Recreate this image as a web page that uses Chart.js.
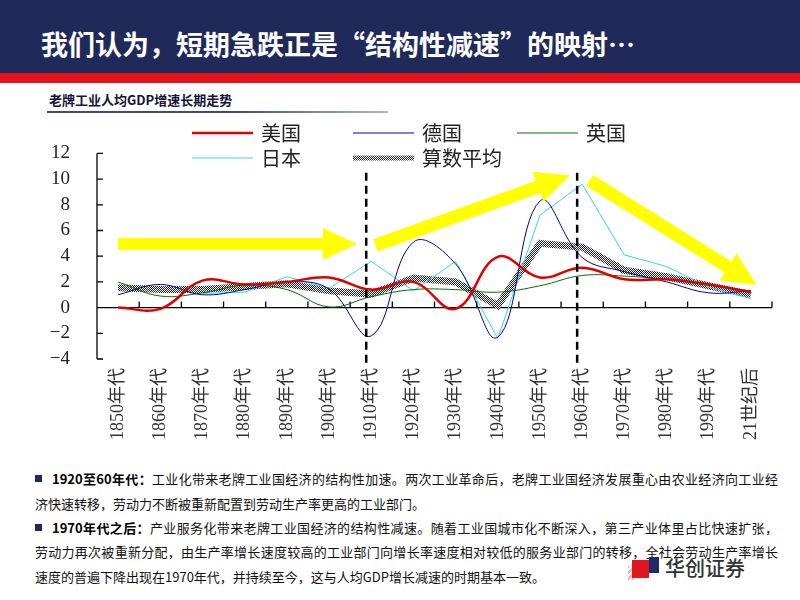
<!DOCTYPE html>
<html><head><meta charset="utf-8">
<script src="https://cdn.jsdelivr.net/npm/chart.js@4.4.0/dist/chart.umd.min.js"></script>
<style>
html,body{margin:0;padding:0;background:#fff;}
body{width:800px;height:600px;position:relative;overflow:hidden;font-family:"Noto Sans CJK SC",sans-serif;}
#bar{position:absolute;left:0;top:0;width:800px;height:73px;background:#1f2a5a;}
#stripe{position:absolute;left:0;top:73px;width:800px;height:10px;background:#e3141c;}
#title{position:absolute;left:41px;top:25px;color:#fff;font-size:27px;font-weight:bold;line-height:38px;white-space:nowrap;}
#sub{position:absolute;left:49px;top:91px;font-size:13px;font-weight:bold;color:#14143a;line-height:17px;white-space:nowrap;}
#subline{position:absolute;left:47px;top:111px;width:341px;height:2px;background:linear-gradient(to right,#3e4c70 0%,#3e4c70 55%,#b0bac8 100%);}
#chartbox{position:absolute;left:0;top:115px;width:800px;height:345px;}
.ln{position:absolute;font-size:13px;line-height:18px;color:#111;white-space:nowrap;}
.j{text-align:justify;text-align-last:justify;}
.bul{position:absolute;left:35px;width:7px;height:7px;background:#1f2a5a;}
.ln b{font-weight:bold;color:#000;}
#logoRed{position:absolute;left:632px;top:560px;width:17px;height:18px;background:#e0161e;}
#logoBlue{position:absolute;left:649px;top:557px;width:10px;height:16px;background:#1f2a6a;}
#logoShade{position:absolute;left:628px;top:566px;width:6px;height:14px;background:repeating-linear-gradient(135deg,#f3b0b3 0 2px,#fff 2px 4px);}
#logoText{position:absolute;left:665px;top:555px;font-size:20px;line-height:26px;color:#333;font-weight:500;white-space:nowrap;}
</style>
</head>
<body>
<div id="bar"></div>
<div id="stripe"></div>
<div id="title">我们认为，短期急跌正是“结构性减速”的映射…</div>
<div id="sub">老牌工业人均GDP增速长期走势</div>
<div id="subline"></div>
<div id="chartbox"><canvas id="c" width="800" height="345"></canvas></div>

<div class="bul" style="top:475px"></div>
<div class="ln j" style="left:52px;top:470px;width:726px"><b>1920至60年代：</b>工业化带来老牌工业国经济的结构性加速。两次工业革命后，老牌工业国经济发展重心由农业经济向工业经</div>
<div class="ln" style="left:35px;top:495px">济快速转移，劳动力不断被重新配置到劳动生产率更高的工业部门。</div>
<div class="bul" style="top:524px"></div>
<div class="ln j" style="left:52px;top:519px;width:726px"><b>1970年代之后：</b>产业服务化带来老牌工业国经济的结构性减速。随着工业国城市化不断深入，第三产业体里占比快速扩张，</div>
<div class="ln j" style="left:35px;top:543px;width:743px">劳动力再次被重新分配，由生产率增长速度较高的工业部门向增长率速度相对较低的服务业部门的转移，全社会劳动生产率增长</div>
<div class="ln" style="left:35px;top:568px">速度的普遍下降出现在1970年代，并持续至今，这与人均GDP增长减速的时期基本一致。</div>

<div id="logoShade"></div>
<div id="logoRed"></div>
<div id="logoBlue"></div>
<div id="logoText">华创证券</div>

<script>
// ---- data ----
const categories = ['1850年代','1860年代','1870年代','1880年代','1890年代','1900年代','1910年代','1920年代','1930年代','1940年代','1950年代','1960年代','1970年代','1980年代','1990年代','21世纪后'];
const seriesNames = ['美国','德国','英国','日本','算数平均'];
const usValues      = [0, -0.1, 2.1, 1.8, 2.0, 2.35, 1.4, 2.0, -0.1, 3.95, 2.35, 3.1, 2.2, 2.2, 1.8, 1.2];
const germanyValues = [1.0, 1.8, 1.0, 1.4, 2.0, 1.45, -2.2, 5.1, 3.4, -2.3, 8.3, 3.9, 2.8, 2.0, 1.15, 1.3];
const ukValues      = [2.0, 0.9, 1.15, 1.75, 1.4, 0.05, 0.85, 1.4, 1.4, 1.2, 1.7, 2.5, 2.45, 2.2, 1.75, 1.3];
const japanValues   = [null, null, 1.1, 1.2, 2.4, 1.5, 3.6, 1.3, 3.6, -2.4, 7.2, 9.6, 4.1, 3.2, 1.6, 0.7];
const avgValues     = [1.55, 1.4, 1.4, 1.65, 1.85, 1.3, 1.05, 2.3, 2.0, 0.15, 5.0, 4.7, 2.9, 2.4, 1.7, 1.0];
const yMin = -4, yMax = 12, yStep = 2;
const markerCategories = [6, 11];           // 1910年代, 1960年代 dashed markers
// trend arrows: [fromIndex, fromValue, toIndex, toValue]
const trendArrows = [[0, 4.95, 5.66, 4.95], [6.1, 4.85, 10.71, 10.3], [11.18, 9.9, 15.14, 1.75]];

const canvas = document.getElementById('c');
const ctx0 = canvas.getContext('2d');
const pc = document.createElement('canvas'); pc.width = 2; pc.height = 2;
const pcx = pc.getContext('2d');
pcx.fillStyle = '#ffffff'; pcx.fillRect(0,0,2,2);
pcx.fillStyle = '#222222'; pcx.fillRect(0,0,1,1); pcx.fillRect(1,1,1,1);
const hatch = ctx0.createPattern(pc, 'repeat');

const colors = ['#e00000', '#0000a0', '#007000', '#33d6f0', hatch];
const widths = [2.5, 1, 1, 1, 7];
const values = [usValues, germanyValues, ukValues, japanValues, avgValues];
const tensions = [0.4, 0.4, 0.4, 0, 0];

const datasets = seriesNames.map((n, i) => ({
  label: n, data: values[i], borderColor: colors[i], borderWidth: widths[i],
  pointRadius: 0, pointHoverRadius: 0, tension: tensions[i], fill: false, spanGaps: false
}));
datasets[4].order = 5; datasets[0].order = 1; datasets[1].order = 2; datasets[2].order = 3; datasets[3].order = 4;

function drawArrow(ctx, x1, y1, x2, y2, shaftW, headW, headL) {
  const ang = Math.atan2(y2 - y1, x2 - x1), len = Math.hypot(x2 - x1, y2 - y1);
  ctx.save(); ctx.translate(x1, y1); ctx.rotate(ang);
  ctx.beginPath();
  ctx.moveTo(0, -shaftW/2); ctx.lineTo(len - headL, -shaftW/2); ctx.lineTo(len - headL, -headW/2);
  ctx.lineTo(len, 0); ctx.lineTo(len - headL, headW/2); ctx.lineTo(len - headL, shaftW/2); ctx.lineTo(0, shaftW/2);
  ctx.closePath(); ctx.fillStyle = '#ffff00'; ctx.fill(); ctx.restore();
}

const axesPlugin = {
  id: 'customAxes',
  beforeDatasetsDraw(chart) {
    const {ctx, scales: {x, y}} = chart;
    const x0 = x.left, x1 = x.right, yz = y.getPixelForValue(0);
    ctx.save(); ctx.strokeStyle = '#000'; ctx.lineWidth = 1.3;
    ctx.beginPath();
    ctx.moveTo(x0, y.getPixelForValue(yMax)); ctx.lineTo(x0, y.getPixelForValue(yMin));
    for (let v = yMin; v <= yMax; v += yStep) { const p = y.getPixelForValue(v); ctx.moveTo(x0, p); ctx.lineTo(x0 + 6, p); }
    ctx.moveTo(x0, yz); ctx.lineTo(x1, yz);
    for (let i = 1; i <= categories.length; i++) { const p = x.getPixelForValue(i - 0.5); ctx.moveTo(p, yz); ctx.lineTo(p, yz - 6); }
    ctx.stroke(); ctx.restore();
  },
  afterDatasetsDraw(chart) {
    const {ctx, scales: {x, y}} = chart;
    trendArrows.forEach(a => {
      drawArrow(ctx, x.getPixelForValue(a[0]), y.getPixelForValue(a[1]), x.getPixelForValue(a[2]), y.getPixelForValue(a[3]), a[1] === a[3] ? 12 : 13, 32, 34);
    });
    ctx.save(); ctx.strokeStyle = '#000'; ctx.lineWidth = 2.5; ctx.setLineDash([8, 5]);
    markerCategories.forEach(ci => {
      const px = x.getPixelForValue(ci) - 5;
      ctx.beginPath(); ctx.moveTo(px, y.getPixelForValue(10.5)); ctx.lineTo(px, y.bottom + 8); ctx.stroke();
    });
    ctx.restore();
  },
  afterDraw(chart) {
    const ctx = chart.ctx;
    const slots = [[192, 18], [353, 18], [517, 18], [192, 43], [353, 43]];
    ctx.save();
    ctx.font = '20px "Noto Sans CJK SC", sans-serif'; ctx.textBaseline = 'middle'; ctx.fillStyle = '#222';
    chart.data.datasets.forEach((ds, i) => {
      const [lx, ly] = slots[i];
      ctx.beginPath(); ctx.strokeStyle = ds.borderColor;
      ctx.lineWidth = i === 4 ? 5 : (i === 0 ? 2.5 : 1);
      ctx.moveTo(lx, ly); ctx.lineTo(lx + 61, ly); ctx.stroke();
      ctx.fillText(ds.label, lx + 69, ly);
    });
    ctx.restore();
  }
};

new Chart(canvas, {
  type: 'line',
  data: { labels: categories, datasets },
  options: {
    responsive: false, animation: false, devicePixelRatio: 1,
    layout: { padding: { top: 38, right: 28, left: 0, bottom: 0 } },
    plugins: { legend: { display: false }, tooltip: { enabled: false }, title: { display: false } },
    scales: {
      x: {
        type: 'category', offset: true,
        grid: { display: false, drawTicks: false }, border: { display: false },
        ticks: { autoSkip: false, maxRotation: 90, minRotation: 90, padding: 9, color: '#333',
                 font: { size: 18, family: '"Liberation Serif", "Noto Sans CJK SC", serif' } },
        afterFit(s) { s.height = 101; }
      },
      y: {
        min: yMin, max: yMax,
        grid: { display: false, drawTicks: false }, border: { display: false },
        ticks: { stepSize: yStep, autoSkip: false, padding: 27, color: '#222',
                 font: { size: 19, family: '"Liberation Serif", serif' },
                 callback: v => (v < 0 ? '−' + Math.abs(v) : String(v)) },
        afterFit(s) { s.width = 97; }
      }
    }
  },
  plugins: [axesPlugin]
});
</script>
</body></html>
